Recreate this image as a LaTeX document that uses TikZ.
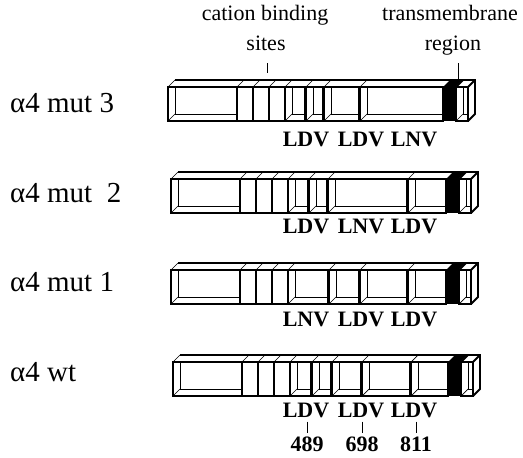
\documentclass[tikz,border=0pt]{standalone}
\usepackage{fontspec}
\setmainfont{Liberation Serif}
\newcommand{\dd}{7}
% box segment: x1 x2 yt yb
\newcommand{\segbox}[4]{%
  \draw[inner] (#1+\dd,#3) -- (#1+\dd,#4-\dd) -- (#2,#4-\dd);
  \draw[inner] (#1,#4) -- (#1+\dd,#4-\dd);
  \draw[inner] (#1,#3) -- (#1+\dd,#3-\dd);
  \draw[outer] (#1,#3) rectangle (#2,#4);
}
\newcommand{\segthin}[4]{%
  \draw[inner] (#1,#3) -- (#1+\dd,#3-\dd);
  \draw[outer] (#1,#3) rectangle (#2,#4);
}
\newcommand{\segblack}[4]{%
  \fill (#1,#3) -- (#1+\dd,#3-\dd) -- (#2+\dd,#3-\dd) -- (#2,#3) -- cycle;
  \fill (#1,#3) rectangle (#2,#4);
}
\newcommand{\segend}[4]{%
  \draw[inner] (#1+\dd,#3) -- (#1+\dd,#4-\dd) -- (#2,#4-\dd);
  \draw[inner] (#1,#4) -- (#1+\dd,#4-\dd);
  \draw[outer] (#1,#3) -- (#1+\dd,#3-\dd) -- (#2+\dd,#3-\dd) -- (#2+\dd,#4-\dd) -- (#2,#4);
  \draw[outer] (#2,#3) -- (#2+\dd,#3-\dd);
  \draw[outer] (#1,#3) rectangle (#2,#4);
}
\newcommand{\barcommon}[2]{% yt yb
  \draw[outer] (171+\dd,#1-\dd) -- (459+\dd,#1-\dd);
  \segbox{171}{240}{#1}{#2}
  \segthin{240}{256}{#1}{#2}
  \segthin{256}{272}{#1}{#2}
  \segthin{272}{288}{#1}{#2}
  \segblack{446}{458}{#1}{#2}
  \segend{459}{471}{#1}{#2}
}
\begin{document}
\begin{tikzpicture}[x=1pt,y=-1pt,
  outer/.style={line width=1.8pt, line join=miter},
  inner/.style={line width=0.7pt},
  rowlabel/.style={anchor=west, inner sep=0pt, font=\fontsize{29}{32}\selectfont},
  toplabel/.style={anchor=base, inner sep=0pt, font=\fontsize{22}{25}\selectfont},
  motif/.style={anchor=center, inner sep=0pt, font=\fontsize{22}{25}\selectfont\bfseries},
  tick/.style={line width=1pt}]
\useasboundingbox (0,0) rectangle (523,458);

% top labels
\node[toplabel] (cbs1) at (265,20) {cation binding};
\node[toplabel] (cbs2) at (266,50) {sites};
\node[toplabel] (tm1) at (450,20) {transmembrane};
\node[toplabel] (tm2) at (453,50) {region};
\coordinate (cbsA) at (267,63);
\coordinate (cbsB) at (267,73);
\coordinate (tmA) at (458,63);
\coordinate (tmB) at (458,80);
\draw[tick] (cbsA) -- (cbsB);
\draw[tick] (tmA) -- (tmB);

% row labels
\node[rowlabel] (r3) at (10,103) {α4 mut 3};
\node[rowlabel] (r2) at (10,193) {α4 mut\ \ 2};
\node[rowlabel] (r1) at (10,282) {α4 mut 1};
\node[rowlabel] (r0) at (10,372) {α4 wt};

% mut 3
\begin{scope}[xshift=-3pt]
\barcommon{87}{121}
\segbox{288}{308}{87}{121}
\segbox{309}{326}{87}{121}
\segbox{327}{362}{87}{121}
\segbox{363}{446}{87}{121}
\end{scope}
% mut 2
\begin{scope}
\barcommon{179}{213}
\segbox{288}{308}{179}{213}
\segbox{309}{327}{179}{213}
\segbox{328}{407}{179}{213}
\segbox{408}{446}{179}{213}
\end{scope}
% mut 1
\begin{scope}
\barcommon{270}{304}
\segbox{288}{328}{270}{304}
\segbox{329}{359}{270}{304}
\segbox{360}{407}{270}{304}
\segbox{408}{446}{270}{304}
\end{scope}
% wt
\begin{scope}[xshift=2pt]
\barcommon{362}{396}
\segbox{288}{309}{362}{396}
\segbox{310}{329}{362}{396}
\segbox{330}{359}{362}{396}
\segbox{360}{408}{362}{396}
\segbox{409}{446}{362}{396}
\end{scope}

% motif labels
\node[motif] (m3a) at (306,139) {LDV};
\node[motif] (m3b) at (361,139) {LDV};
\node[motif] (m3c) at (414,139) {LNV};
\node[motif] (m2a) at (306,226) {LDV};
\node[motif] (m2b) at (361,226) {LNV};
\node[motif] (m2c) at (414,226) {LDV};
\node[motif] (m1a) at (306,319) {LNV};
\node[motif] (m1b) at (361,319) {LDV};
\node[motif] (m1c) at (414,319) {LDV};
\node[motif] (m0a) at (306,410) {LDV};
\node[motif] (m0b) at (361,410) {LDV};
\node[motif] (m0c) at (414,410) {LDV};
\node[motif] (n1) at (307,444) {489};
\node[motif] (n2) at (362,444) {698};
\node[motif] (n3) at (416,444) {811};
\draw[tick, shorten <=4pt, shorten >=3pt] (m0a.south -| n1.north) -- (n1.north);
\draw[tick, shorten <=4pt, shorten >=3pt] (m0b.south -| n2.north) -- (n2.north);
\draw[tick, shorten <=4pt, shorten >=3pt] (m0c.south -| n3.north) -- (n3.north);
\end{tikzpicture}
\end{document}
